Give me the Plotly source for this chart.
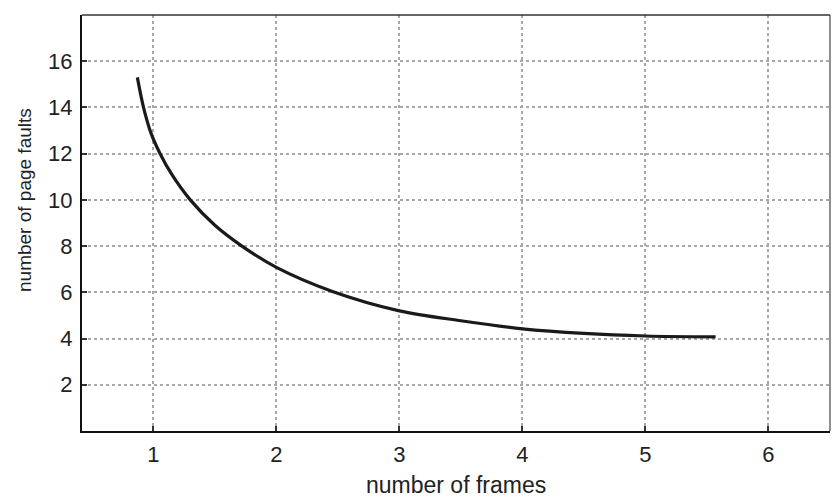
import plotly.graph_objects as go

frames = [0.87, 0.92, 0.98, 1.055, 1.15, 1.3, 1.5, 1.72, 2.0, 2.45, 3.0, 3.5, 4.0, 4.5, 5.0, 5.57]
page_faults = [15.3, 14.0, 12.9, 12.0, 11.1, 10.0, 8.9, 8.0, 7.08, 6.05, 5.2, 4.77, 4.42, 4.22, 4.11, 4.07]
x_ticks = [1, 2, 3, 4, 5, 6]
y_ticks = [2, 4, 6, 8, 10, 12, 14, 16]

FONT = "Liberation Sans, Arial, sans-serif"

fig = go.Figure()
fig.add_trace(go.Scatter(
    x=frames, y=page_faults, mode="lines",
    line=dict(color="#1a1a1a", width=3.2, shape="spline", smoothing=0.9),
    showlegend=False, hoverinfo="skip",
))

fig.update_layout(
    width=833, height=497,
    margin=dict(l=82, r=3, t=15, b=66),
    paper_bgcolor="white", plot_bgcolor="white",
    font=dict(family=FONT, size=22, color="#222"),
    xaxis=dict(
        range=[0.42, 6.5], tickvals=x_ticks, ticktext=[str(v) for v in x_ticks],
        showgrid=True, gridcolor="#a8a8a8", griddash="dot", gridwidth=1.5,
        zeroline=False, showline=True, linecolor="#111", linewidth=2.2,
        ticks="inside", ticklen=5, tickcolor="#333", tickwidth=1.5,
        ticklabelstandoff=2, automargin=False,
    ),
    yaxis=dict(
        range=[0, 18], tickvals=y_ticks, ticktext=[str(v) for v in y_ticks],
        showgrid=True, gridcolor="#a8a8a8", griddash="dot", gridwidth=1.5,
        zeroline=False, showline=True, linecolor="#111", linewidth=2.2,
        ticks="inside", ticklen=5, tickcolor="#333", tickwidth=1.5,
        ticklabelstandoff=3, automargin=False,
    ),
    shapes=[
        dict(type="line", xref="paper", yref="paper", x0=0, x1=1, y0=1, y1=1,
             line=dict(color="#333", width=1.5)),
        dict(type="line", xref="paper", yref="paper", x0=1, x1=1, y0=0, y1=1,
             line=dict(color="#444", width=1.2)),
    ],
    annotations=[
        dict(text="number of frames", xref="paper", yref="paper",
             x=0.5, y=-69/416, xanchor="center", yanchor="bottom",
             showarrow=False, font=dict(size=23, color="#222")),
        dict(text="number of page faults", xref="paper", yref="paper",
             x=(24 - 82) / 748, y=(431 - 200) / 416, xanchor="center", yanchor="middle",
             textangle=-90, showarrow=False, font=dict(size=19, color="#222")),
    ],
)

fig.write_html("out.html", config={"displayModeBar": False},
               post_script="document.body.style.margin='0';")
